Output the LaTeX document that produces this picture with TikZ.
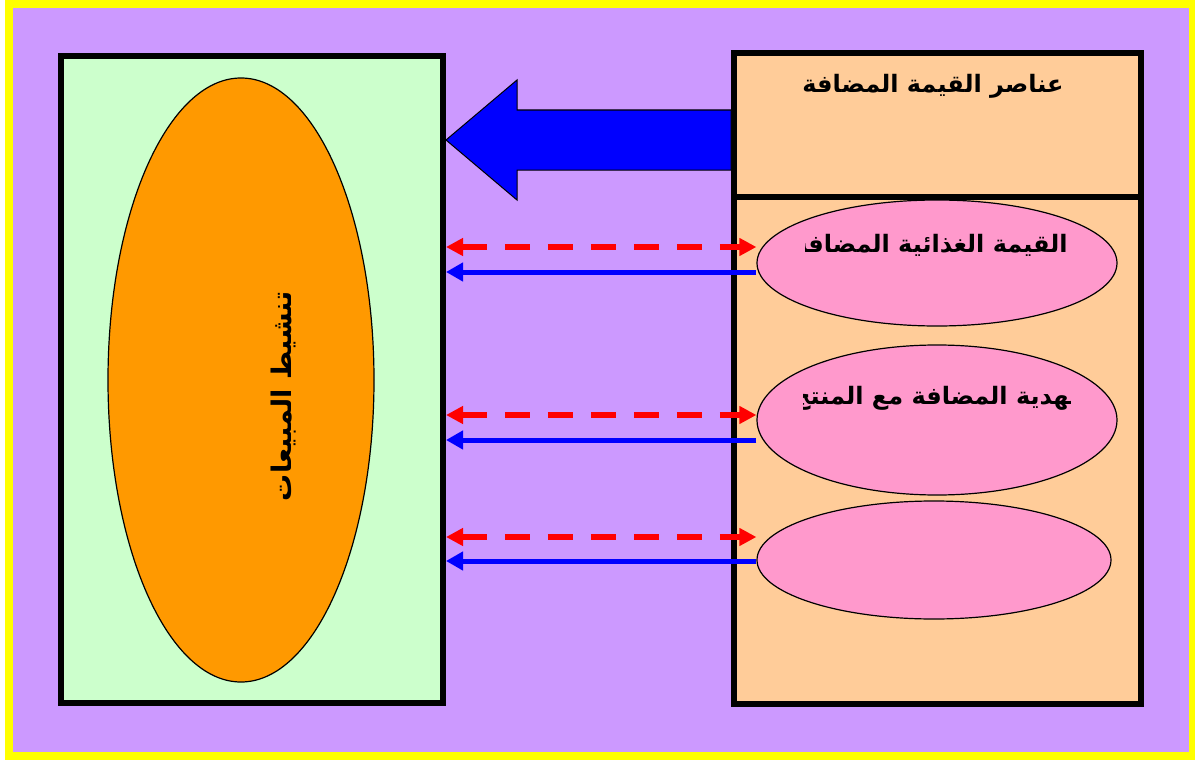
\documentclass[tikz,border=0pt]{standalone}
\usepackage{fontspec}
\newfontfamily\arabicfont[Script=Arabic]{DejaVu Sans}
\TeXXeTstate=1
\usetikzlibrary{arrows.meta,shapes.geometric}

\definecolor{frameyellow}{HTML}{FFFF00}
\definecolor{lilac}{HTML}{CC99FF}
\definecolor{mintgreen}{HTML}{CCFFCC}
\definecolor{peach}{HTML}{FFCC99}
\definecolor{salesorange}{HTML}{FF9900}
\definecolor{ovalpink}{HTML}{FF99CC}

\begin{document}
\begin{tikzpicture}[x=1pt,y=-1pt,
  box/.style={draw=black,line width=6pt,inner sep=0pt},
  oval/.style={ellipse,draw=black,line width=1.2pt,fill=ovalpink,inner sep=0pt},
  lbl/.style={font=\arabicfont\bfseries\fontsize{24}{28}\selectfont,inner sep=0pt},
  redarr/.style={red,line width=6pt,dash pattern=on 25pt off 18pt,
    {Triangle[length=17pt,width=17pt]}-{Triangle[length=17pt,width=17pt]}},
  bluearr/.style={blue,line width=5pt,-{Triangle[length=17pt,width=18pt]}},
  bigarr/.style={draw=black,line width=1pt,fill=blue,line join=miter}]

\useasboundingbox (0,0) rectangle (1195,760);
\fill[frameyellow] (5,0) rectangle (1195,760);
\fill[lilac] (13,8) rectangle (1189,752);

% left side
\node[box,fill=mintgreen,minimum width=382,minimum height=647] (sales) at (252,379.5) {};
\node[ellipse,draw=black,line width=1.2pt,fill=salesorange,inner sep=0pt,
  minimum width=266,minimum height=604] (promo) at (241,380) {};
\node[lbl,font=\arabicfont\bfseries\fontsize{27}{32}\selectfont,rotate=90] (promotext) at (284,396)
  {\beginR تنشيط المبيعات\endR};

% right side
\node[box,fill=peach,minimum width=407,minimum height=507] (body) at (937.5,450.5) {};
\node[box,fill=peach,minimum width=407,minimum height=144] (head) at (937.5,125) {};
\node[lbl] (headtext) at (933,86) {\beginR عناصر القيمة المضافة\endR};

\node[oval,minimum width=360,minimum height=126] (food) at (937,263) {};
\node[oval,minimum width=360,minimum height=150] (gift) at (937,420) {};
\node[oval,minimum width=354,minimum height=118] (third) at (934,560) {};

\begin{scope}
\clip (805,222) rectangle (1075,268);
\node[lbl,anchor=east] (foodtext) at (1068,245) {\beginR القيمة الغذائية المضافة\endR};
\end{scope}
\begin{scope}
\clip (803,375) rectangle (1070,421);
\node[lbl] (gifttext) at (940,398) {\beginR الهدية المضافة مع المنتج\endR};
\end{scope}

% big arrow
\coordinate (tip) at (sales.east |- 0,140);
\draw[bigarr] (tip) -- ++(71,-60) -- ++(0,30) -- (head.west |- 0,110)
  -- (head.west |- 0,170) -- ([shift={(71,30)}]tip) -- ([shift={(71,60)}]tip) -- cycle;

% links
\draw[redarr] (sales.east |- 0,247) -- (food.west |- 0,247);
\draw[bluearr] (food.west |- 0,272) -- (sales.east |- 0,272);
\draw[redarr] (sales.east |- 0,415) -- (gift.west |- 0,415);
\draw[bluearr] (gift.west |- 0,440) -- (sales.east |- 0,440);
\draw[redarr] (sales.east |- 0,537) -- (third.west |- 0,537);
\draw[bluearr] (third.west |- 0,561) -- (sales.east |- 0,561);

\end{tikzpicture}
\end{document}
